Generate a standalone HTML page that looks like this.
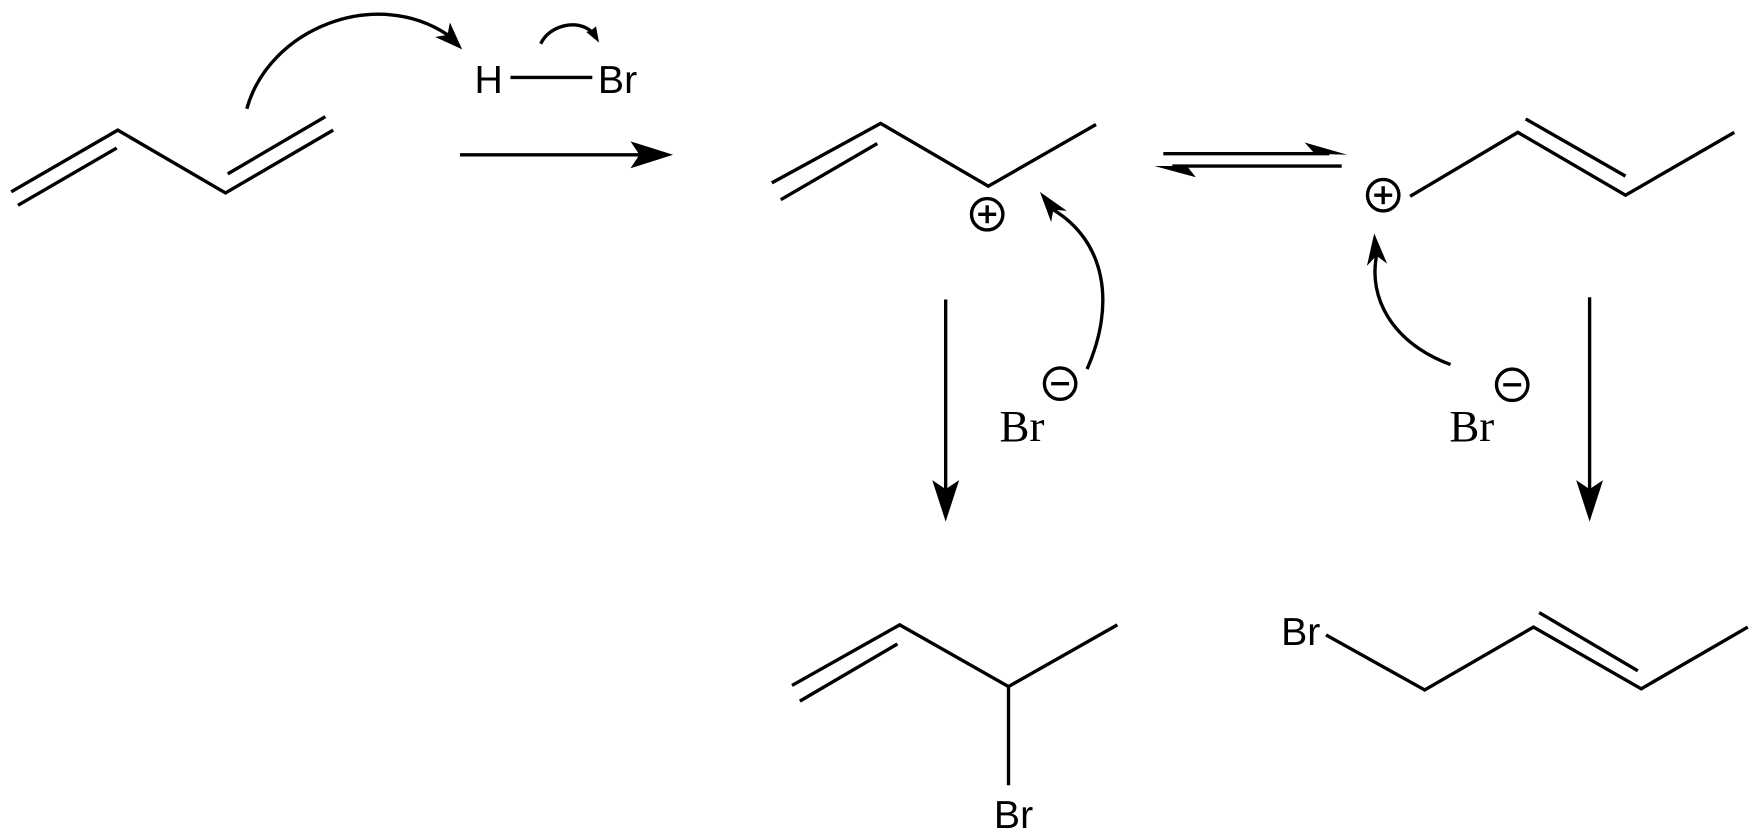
<!DOCTYPE html>
<html><head><meta charset="utf-8"><style>
html,body{margin:0;padding:0;background:#fff;}
svg{display:block;}
.s{font-family:"Liberation Sans",sans-serif;font-size:35px;}
.t{font-family:"Liberation Serif",serif;font-size:40px;}
</style></head><body>
<svg width="1759" height="838" viewBox="0 0 1568 747" preserveAspectRatio="none" xmlns="http://www.w3.org/2000/svg">
<g fill="none" stroke="#000" stroke-width="3" stroke-linecap="butt" stroke-linejoin="miter">
<polyline points="10,171 105,116 201,172 297,116"/>
<line x1="16" y1="183" x2="104" y2="132"/>
<line x1="203" y1="155" x2="290" y2="104"/>
<path d="M220,97 C240,25 335,-12 399,31"/>
<path d="M482,39 C490,22 515,17 527,28"/>
<line x1="455" y1="69" x2="528" y2="69"/>
<line x1="410" y1="138" x2="580" y2="138"/>
<polyline points="688,163 785,110 881,166 977,111"/>
<line x1="696" y1="178" x2="782" y2="128"/>
<circle cx="880" cy="191" r="14"/>
<line x1="872" y1="191" x2="888" y2="191"/><line x1="880" y1="183" x2="880" y2="199"/>
<path d="M969,329 C995,270 985,215 939,187"/>
<line x1="1037" y1="137" x2="1185" y2="137"/>
<line x1="1045" y1="148" x2="1196" y2="148"/>
<polyline points="1257,175 1353,118 1449,174 1546,118"/>
<line x1="1360" y1="106" x2="1449" y2="157"/>
<circle cx="1233" cy="174" r="14"/>
<line x1="1225" y1="174" x2="1241" y2="174"/><line x1="1233" y1="166" x2="1233" y2="182"/>
<path d="M1293,325 C1240,305 1220,265 1227,228"/>
<circle cx="945" cy="342" r="14"/><line x1="937" y1="342" x2="953" y2="342"/>
<circle cx="1348" cy="343" r="14"/><line x1="1340" y1="343" x2="1356" y2="343"/>
<line x1="843" y1="267" x2="843" y2="440"/>
<line x1="1417" y1="265" x2="1417" y2="440"/>
<polyline points="706,611 802,557 899,612 996,557"/>
<line x1="713" y1="625" x2="800" y2="574"/>
<line x1="899" y1="612" x2="899" y2="700"/>
<polyline points="1182,566 1270,615 1367,559 1463,614 1558,559"/>
<line x1="1372" y1="546" x2="1460" y2="598"/>
</g>
<g fill="#000" stroke="none">
<polygon points="412,44 388,33 399,31 401,20"/>
<polygon points="534,38 522.6,28.5 527,27 531.3,23.5"/>
<polygon points="600,138 562,126 570,138 562,150"/>
<polygon points="1201,138 1163,127 1172,137"/>
<polygon points="1029,148 1066,158 1058,148"/>
<polygon points="927,171 951,188 939,187 937,198"/>
<polygon points="1225,208 1236.5,235 1227,228 1218.5,237"/>
<polygon points="843,465 831,428 843,436 855,428"/>
<polygon points="1417,465 1405,428 1417,436 1429,428"/>
</g>
<g fill="#000">
<text class="s" x="423" y="83">H</text>
<text class="s" x="533" y="83">Br</text>
<text class="t" x="891" y="393">Br</text>
<text class="t" x="1292" y="393">Br</text>
<text class="s" x="886" y="738">Br</text>
<text class="s" x="1142" y="575">Br</text>
</g>
</svg>
</body></html>
